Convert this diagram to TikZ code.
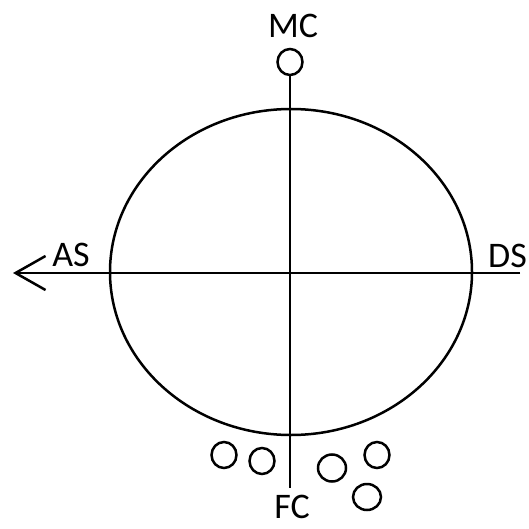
\documentclass[tikz,border=0pt]{standalone}
\usepackage{fontspec}
\setmainfont{Carlito}
\usetikzlibrary{arrows.meta,shapes.geometric}
\begin{document}
\begin{tikzpicture}[x=1pt,y=-1pt,
  lbl/.style={font=\fontsize{36}{40}\selectfont, inner sep=0pt},
  ln/.style={line width=2.5pt, draw=black},
  smallc/.style={ellipse, draw=black, line width=2.5pt, minimum width=25pt, minimum height=26pt, inner sep=0pt}]
\useasboundingbox (0,0) rectangle (528,529);
\draw[ln] (291,272) ellipse [x radius=181, y radius=163];
% labels
\node[lbl] (mc) at (293,26) {MC};
\node[lbl] (as) at (71,255) {AS};
\node[lbl, anchor=west] (ds) at (488,256) {DS};
\node[lbl] (fc) at (292,507) {FC};
% circles
\node[smallc] (top) at (290,62) {};
\node[smallc] (c1) at (224,455) {};
\node[smallc] (c2) at (262,461) {};
\node[smallc, minimum width=28pt, minimum height=27pt] (c3) at (332,468) {};
\node[smallc] (c4) at (377,455) {};
\node[smallc, minimum width=28pt] (c5) at (367,497) {};
% axes
\coordinate (left) at (13,273);
\coordinate (right) at (520,273);
\coordinate (bot) at (290,488);
\draw[ln, -{Straight Barb[length=30pt,width=34pt,line width=2.5pt]}] (right) -- (left);
\draw[ln] (top.south) -- (bot);
\end{tikzpicture}
\end{document}
